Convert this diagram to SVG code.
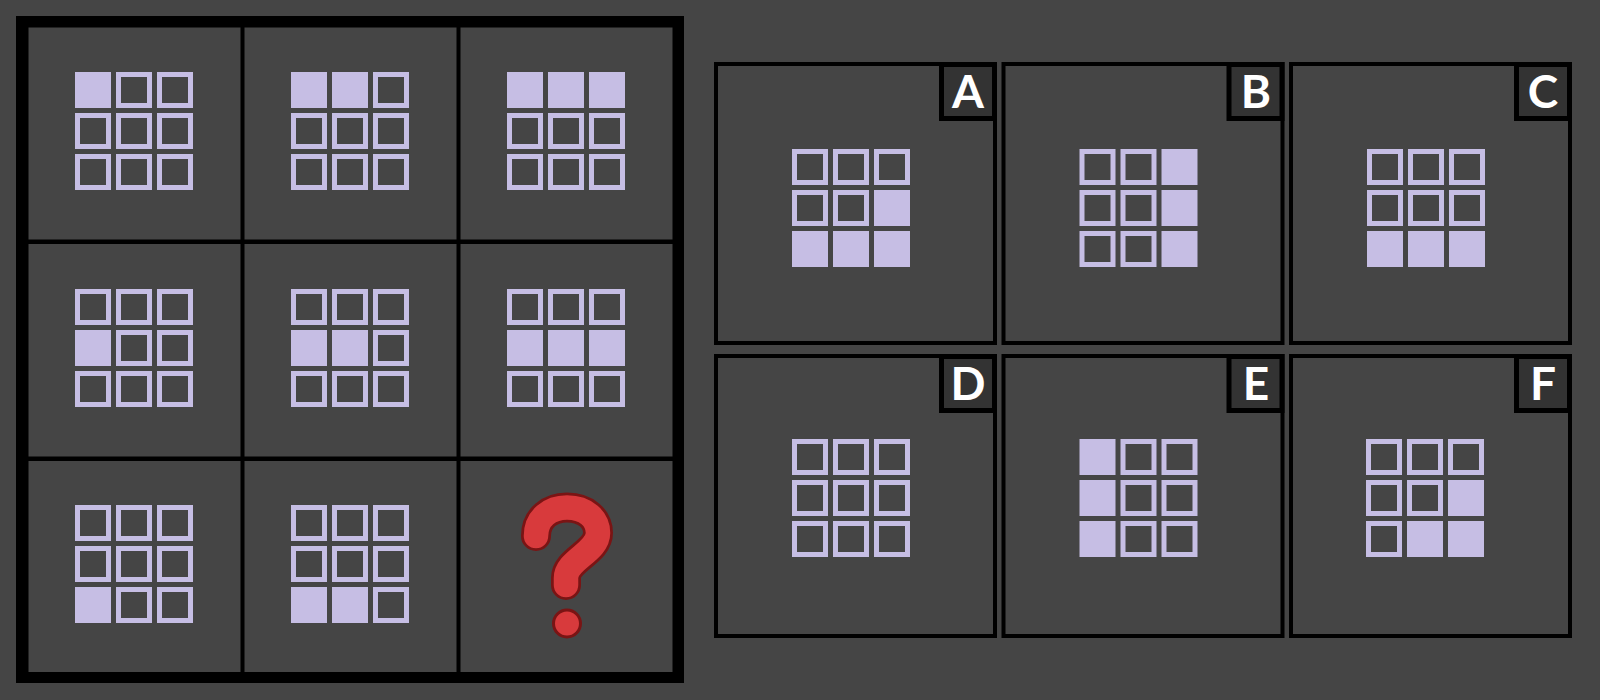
<svg xmlns="http://www.w3.org/2000/svg" xmlns:xlink="http://www.w3.org/1999/xlink" width="1600" height="700" viewBox="0 0 1600 700">
<style>
.cell{fill:#454545}
.panel{fill:#454545;stroke:#000;stroke-width:4}
.lbox{fill:#333;stroke:#000;stroke-width:5}
.lbl{font-family:Lato,"Open Sans","Liberation Sans",sans-serif;font-weight:700;font-size:46px;fill:#fff;text-anchor:middle}
.f{fill:#c6bee4}
.o{fill:none;stroke:#c6bee4;stroke-width:5}
</style>
<defs>
<rect id="F" class="f" width="36" height="36"/>
<rect id="O" class="o" x="2.5" y="2.5" width="31" height="31"/>
</defs>
<rect width="1600" height="700" fill="#454545"/>
<g id="matrix">
<rect x="16" y="16" width="668" height="667" fill="#000"/>
<rect class="cell" x="28.5" y="27.5" width="212" height="212"/>
<rect class="cell" x="244.5" y="27.5" width="212" height="212"/>
<rect class="cell" x="460.5" y="27.5" width="212" height="212"/>
<rect class="cell" x="28.5" y="244" width="212" height="212.5"/>
<rect class="cell" x="244.5" y="244" width="212" height="212.5"/>
<rect class="cell" x="460.5" y="244" width="212" height="212.5"/>
<rect class="cell" x="28.5" y="461" width="212" height="211"/>
<rect class="cell" x="244.5" y="461" width="212" height="211"/>
<rect class="cell" x="460.5" y="461" width="212" height="211"/>
</g>
<g id="m11" transform="translate(75,72)">
<use xlink:href="#F" x="0" y="0"/><use xlink:href="#O" x="41" y="0"/><use xlink:href="#O" x="82" y="0"/>
<use xlink:href="#O" x="0" y="41"/><use xlink:href="#O" x="41" y="41"/><use xlink:href="#O" x="82" y="41"/>
<use xlink:href="#O" x="0" y="82"/><use xlink:href="#O" x="41" y="82"/><use xlink:href="#O" x="82" y="82"/>
</g>
<g id="m12" transform="translate(291,72)">
<use xlink:href="#F" x="0" y="0"/><use xlink:href="#F" x="41" y="0"/><use xlink:href="#O" x="82" y="0"/>
<use xlink:href="#O" x="0" y="41"/><use xlink:href="#O" x="41" y="41"/><use xlink:href="#O" x="82" y="41"/>
<use xlink:href="#O" x="0" y="82"/><use xlink:href="#O" x="41" y="82"/><use xlink:href="#O" x="82" y="82"/>
</g>
<g id="m13" transform="translate(507,72)">
<use xlink:href="#F" x="0" y="0"/><use xlink:href="#F" x="41" y="0"/><use xlink:href="#F" x="82" y="0"/>
<use xlink:href="#O" x="0" y="41"/><use xlink:href="#O" x="41" y="41"/><use xlink:href="#O" x="82" y="41"/>
<use xlink:href="#O" x="0" y="82"/><use xlink:href="#O" x="41" y="82"/><use xlink:href="#O" x="82" y="82"/>
</g>
<g id="m21" transform="translate(75,289)">
<use xlink:href="#O" x="0" y="0"/><use xlink:href="#O" x="41" y="0"/><use xlink:href="#O" x="82" y="0"/>
<use xlink:href="#F" x="0" y="41"/><use xlink:href="#O" x="41" y="41"/><use xlink:href="#O" x="82" y="41"/>
<use xlink:href="#O" x="0" y="82"/><use xlink:href="#O" x="41" y="82"/><use xlink:href="#O" x="82" y="82"/>
</g>
<g id="m22" transform="translate(291,289)">
<use xlink:href="#O" x="0" y="0"/><use xlink:href="#O" x="41" y="0"/><use xlink:href="#O" x="82" y="0"/>
<use xlink:href="#F" x="0" y="41"/><use xlink:href="#F" x="41" y="41"/><use xlink:href="#O" x="82" y="41"/>
<use xlink:href="#O" x="0" y="82"/><use xlink:href="#O" x="41" y="82"/><use xlink:href="#O" x="82" y="82"/>
</g>
<g id="m23" transform="translate(507,289)">
<use xlink:href="#O" x="0" y="0"/><use xlink:href="#O" x="41" y="0"/><use xlink:href="#O" x="82" y="0"/>
<use xlink:href="#F" x="0" y="41"/><use xlink:href="#F" x="41" y="41"/><use xlink:href="#F" x="82" y="41"/>
<use xlink:href="#O" x="0" y="82"/><use xlink:href="#O" x="41" y="82"/><use xlink:href="#O" x="82" y="82"/>
</g>
<g id="m31" transform="translate(75,505)">
<use xlink:href="#O" x="0" y="0"/><use xlink:href="#O" x="41" y="0"/><use xlink:href="#O" x="82" y="0"/>
<use xlink:href="#O" x="0" y="41"/><use xlink:href="#O" x="41" y="41"/><use xlink:href="#O" x="82" y="41"/>
<use xlink:href="#F" x="0" y="82"/><use xlink:href="#O" x="41" y="82"/><use xlink:href="#O" x="82" y="82"/>
</g>
<g id="m32" transform="translate(291,505)">
<use xlink:href="#O" x="0" y="0"/><use xlink:href="#O" x="41" y="0"/><use xlink:href="#O" x="82" y="0"/>
<use xlink:href="#O" x="0" y="41"/><use xlink:href="#O" x="41" y="41"/><use xlink:href="#O" x="82" y="41"/>
<use xlink:href="#F" x="0" y="82"/><use xlink:href="#F" x="41" y="82"/><use xlink:href="#O" x="82" y="82"/>
</g>
<g id="m33">
<path d="M536,536 C536,518 550,507.5 567,507.5 C586,507.5 598,519 598,533 C598,552 566,560 566,578 L566,585" fill="none" stroke="#7a1414" stroke-width="30" stroke-linecap="round" stroke-linejoin="round"/>
<path d="M536,536 C536,518 550,507.5 567,507.5 C586,507.5 598,519 598,533 C598,552 566,560 566,578 L566,585" fill="none" stroke="#d83a3c" stroke-width="24.5" stroke-linecap="round" stroke-linejoin="round"/>
<circle cx="567" cy="623.5" r="13.5" fill="#d83a3c" stroke="#7a1414" stroke-width="3"/>
</g>
<g id="A">
<rect class="panel" x="716" y="64" width="279" height="279"/>
<rect class="lbox" x="941.5" y="64.5" width="53" height="54"/>
<text class="lbl" x="968" y="108">A</text>
<g transform="translate(792,149)">
<use xlink:href="#O" x="0" y="0"/><use xlink:href="#O" x="41" y="0"/><use xlink:href="#O" x="82" y="0"/>
<use xlink:href="#O" x="0" y="41"/><use xlink:href="#O" x="41" y="41"/><use xlink:href="#F" x="82" y="41"/>
<use xlink:href="#F" x="0" y="82"/><use xlink:href="#F" x="41" y="82"/><use xlink:href="#F" x="82" y="82"/>
</g>
</g>
<g id="B">
<rect class="panel" x="1003.5" y="64" width="279" height="279"/>
<rect class="lbox" x="1229" y="64.5" width="53" height="54"/>
<text class="lbl" x="1256" y="108">B</text>
<g transform="translate(1079.5,149)">
<use xlink:href="#O" x="0" y="0"/><use xlink:href="#O" x="41" y="0"/><use xlink:href="#F" x="82" y="0"/>
<use xlink:href="#O" x="0" y="41"/><use xlink:href="#O" x="41" y="41"/><use xlink:href="#F" x="82" y="41"/>
<use xlink:href="#O" x="0" y="82"/><use xlink:href="#O" x="41" y="82"/><use xlink:href="#F" x="82" y="82"/>
</g>
</g>
<g id="C">
<rect class="panel" x="1291" y="64" width="279" height="279"/>
<rect class="lbox" x="1516.5" y="64.5" width="53" height="54"/>
<text class="lbl" x="1543" y="108">C</text>
<g transform="translate(1367,149)">
<use xlink:href="#O" x="0" y="0"/><use xlink:href="#O" x="41" y="0"/><use xlink:href="#O" x="82" y="0"/>
<use xlink:href="#O" x="0" y="41"/><use xlink:href="#O" x="41" y="41"/><use xlink:href="#O" x="82" y="41"/>
<use xlink:href="#F" x="0" y="82"/><use xlink:href="#F" x="41" y="82"/><use xlink:href="#F" x="82" y="82"/>
</g>
</g>
<g id="D">
<rect class="panel" x="716" y="356" width="279" height="280"/>
<rect class="lbox" x="941.5" y="356.5" width="53" height="54"/>
<text class="lbl" x="968" y="400">D</text>
<g transform="translate(792,439)">
<use xlink:href="#O" x="0" y="0"/><use xlink:href="#O" x="41" y="0"/><use xlink:href="#O" x="82" y="0"/>
<use xlink:href="#O" x="0" y="41"/><use xlink:href="#O" x="41" y="41"/><use xlink:href="#O" x="82" y="41"/>
<use xlink:href="#O" x="0" y="82"/><use xlink:href="#O" x="41" y="82"/><use xlink:href="#O" x="82" y="82"/>
</g>
</g>
<g id="E">
<rect class="panel" x="1003.5" y="356" width="279" height="280"/>
<rect class="lbox" x="1229" y="356.5" width="53" height="54"/>
<text class="lbl" x="1256" y="400">E</text>
<g transform="translate(1079.5,439)">
<use xlink:href="#F" x="0" y="0"/><use xlink:href="#O" x="41" y="0"/><use xlink:href="#O" x="82" y="0"/>
<use xlink:href="#F" x="0" y="41"/><use xlink:href="#O" x="41" y="41"/><use xlink:href="#O" x="82" y="41"/>
<use xlink:href="#F" x="0" y="82"/><use xlink:href="#O" x="41" y="82"/><use xlink:href="#O" x="82" y="82"/>
</g>
</g>
<g id="Fp">
<rect class="panel" x="1291" y="356" width="279" height="280"/>
<rect class="lbox" x="1516.5" y="356.5" width="53" height="54"/>
<text class="lbl" x="1543" y="400">F</text>
<g transform="translate(1366,439)">
<use xlink:href="#O" x="0" y="0"/><use xlink:href="#O" x="41" y="0"/><use xlink:href="#O" x="82" y="0"/>
<use xlink:href="#O" x="0" y="41"/><use xlink:href="#O" x="41" y="41"/><use xlink:href="#F" x="82" y="41"/>
<use xlink:href="#O" x="0" y="82"/><use xlink:href="#F" x="41" y="82"/><use xlink:href="#F" x="82" y="82"/>
</g>
</g>
<g id="connectors"/>
</svg>
